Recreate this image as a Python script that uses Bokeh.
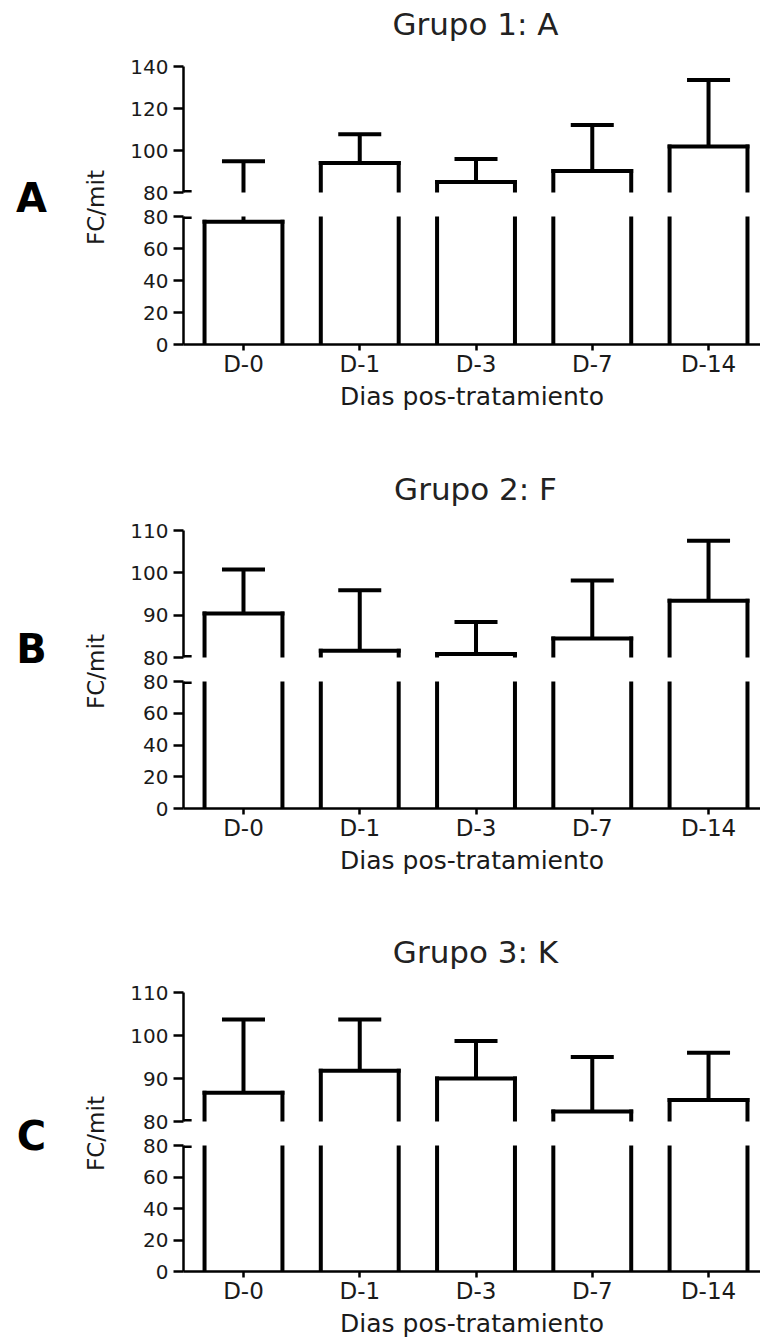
import numpy as np
from bokeh.plotting import figure
from bokeh.layouts import row, column
from bokeh.models import (Range1d, FixedTicker, ColumnDataSource, Label,
                          CDSView, BooleanFilter)
from bokeh.embed import file_html
from bokeh.resources import INLINE

# ---------------- data ----------------
days = ["D-0", "D-1", "D-3", "D-7", "D-14"]
titles = ["Grupo 1: A", "Grupo 2: F", "Grupo 3: K"]
panel_letters = ["A", "B", "C"]
y_label = "FC/mit"
x_label = "Dias pos-tratamiento"

mean_a = [76.7, 94.1, 85.0, 90.2, 101.9]
upper_a = [94.9, 107.7, 96.0, 112.1, 133.6]
mean_b = [90.4, 81.6, 80.8, 84.5, 93.4]
upper_b = [100.8, 95.9, 88.4, 98.2, 107.6]
mean_c = [86.7, 91.8, 90.0, 82.3, 85.0]
upper_c = [103.7, 103.7, 98.7, 95.0, 96.0]

upper_ticks_a = [80, 100, 120, 140]
upper_ticks_bc = [80, 90, 100, 110]
lower_ticks = [0, 20, 40, 60, 80]

# ---------------- layout / style ----------------
FONT = "DejaVu Sans"
TXT = "#1a1a1a"
LEFT_W = 123
MAIN_W = 637
TOTAL_W = LEFT_W + MAIN_W
BORDER_L = 60
X0, X1 = -0.516, 4.447
BAR_W = 0.67
CAP_W = 0.37
TITLE_H = 48
UP_TOP, UP_BOT, LOW_TOP = 18, 12, 12
UP_FRAMES = [126, 127, 129]
LOW_FRAMES = [128, 127, 127]
LOW_BOTS = [120, 118, 68]
TITLE_Y = [23, 24.5, 25.5]
TITLE_X = 475
LETTER_Y = [197 - TITLE_H, 184 - TITLE_H, 209 - TITLE_H]
YLAB_Y = 207 - TITLE_H


def style_yaxis(ax):
    ax.axis_line_width = 2.5
    ax.axis_line_color = "black"
    ax.major_tick_line_width = 2.5
    ax.major_tick_line_color = "black"
    ax.major_tick_out = 10
    ax.major_tick_in = 0
    ax.minor_tick_line_color = None
    ax.major_label_text_font = FONT
    ax.major_label_text_font_size = "20px"
    ax.major_label_text_color = TXT
    ax.major_label_standoff = 5


def draw_marks(p, src, top_mask):
    p.vbar(x="x", top="top", bottom=0, width=BAR_W, source=src,
           fill_color="white", line_color=None)
    for col in ("bl", "br"):
        p.segment(x0=col, y0=0, x1=col, y1="top", source=src,
                  line_color="black", line_width=4, line_cap="square")
    p.segment(x0="bl", y0="top", x1="br", y1="top", source=src,
              view=CDSView(filter=BooleanFilter(top_mask)),
              line_color="black", line_width=4, line_cap="square")
    p.segment(x0="x", y0="top", x1="x", y1="upper", source=src,
              line_color="black", line_width=4)
    p.segment(x0="cl", y0="upper", x1="cr", y1="upper", source=src,
              line_color="black", line_width=4)


def base_fig(w, h, yr, **kw):
    p = figure(width=w, height=h, x_range=Range1d(X0, X1), y_range=yr,
               output_backend="svg", toolbar_location=None, **kw)
    p.grid.visible = False
    p.outline_line_color = None
    p.background_fill_color = "white"
    p.border_fill_color = "white"
    return p


def blank_fig(w, h):
    p = figure(width=w, height=h, x_range=Range1d(0, w), y_range=Range1d(0, h),
               x_axis_location=None, y_axis_location=None,
               output_backend="svg", toolbar_location=None, min_border=0)
    p.grid.visible = False
    p.outline_line_color = None
    return p


def make_panel(i, means, uppers, up_ticks):
    m = np.array(means, dtype=float)
    u = np.array(uppers, dtype=float)
    x = np.arange(len(days), dtype=float)
    src = ColumnDataSource(dict(x=x, top=m, upper=u,
                                bl=x - BAR_W / 2, br=x + BAR_W / 2,
                                cl=x - CAP_W / 2, cr=x + CAP_W / 2))
    brk = up_ticks[0]

    # title strip
    tf = blank_fig(TOTAL_W, TITLE_H)
    tf.add_layout(Label(x=TITLE_X, y=TITLE_H - TITLE_Y[i], text=titles[i],
                        text_font=FONT, text_font_size="31px",
                        text_color="#222222", text_align="center",
                        text_baseline="middle"))

    up_h = UP_TOP + UP_FRAMES[i] + UP_BOT
    up = base_fig(MAIN_W, up_h, Range1d(up_ticks[0], up_ticks[-1]),
                  x_axis_location=None,
                  min_border_left=BORDER_L, min_border_right=0,
                  min_border_top=UP_TOP, min_border_bottom=UP_BOT)
    up.yaxis.ticker = FixedTicker(ticks=up_ticks)
    style_yaxis(up.yaxis[0])
    draw_marks(up, src, [True] * len(days))
    up.segment(x0=[X0], y0=[brk], x1=[X0 + 0.07], y1=[brk],
               line_color="black", line_width=5)

    low_bot = LOW_BOTS[i]
    low_h = LOW_TOP + LOW_FRAMES[i] + low_bot
    low = base_fig(MAIN_W, low_h, Range1d(lower_ticks[0], lower_ticks[-1]),
                   min_border_left=BORDER_L, min_border_right=0,
                   min_border_top=LOW_TOP, min_border_bottom=low_bot)
    low.yaxis.ticker = FixedTicker(ticks=lower_ticks)
    style_yaxis(low.yaxis[0])
    xa = low.xaxis[0]
    xa.ticker = FixedTicker(ticks=list(range(len(days))))
    xa.major_label_overrides = {j: d for j, d in enumerate(days)}
    xa.axis_line_width = 2.5
    xa.axis_line_color = "black"
    xa.major_tick_line_width = 2.5
    xa.major_tick_line_color = "black"
    xa.major_tick_out = 6
    xa.major_tick_in = 0
    xa.minor_tick_line_color = None
    xa.major_label_text_font = FONT
    xa.major_label_text_font_size = "23px"
    xa.major_label_text_color = TXT
    xa.major_label_standoff = 0
    xa.axis_label = x_label
    xa.axis_label_text_font = FONT
    xa.axis_label_text_font_size = "25px"
    xa.axis_label_text_font_style = "normal"
    xa.axis_label_text_color = TXT
    xa.axis_label_standoff = 2
    draw_marks(low, src, [bool(v) for v in (m <= lower_ticks[-1])])
    low.segment(x0=[X0], y0=[brk], x1=[X0 + 0.07], y1=[brk],
                line_color="black", line_width=5)

    lh = up_h + low_h
    left = blank_fig(LEFT_W, lh)
    left.add_layout(Label(x=31, y=lh - LETTER_Y[i], text=panel_letters[i],
                          text_font=FONT, text_font_style="bold",
                          text_font_size="40px", text_color="black",
                          text_align="center", text_baseline="middle"))
    left.add_layout(Label(x=95, y=lh - YLAB_Y, text=y_label, angle=np.pi / 2,
                          text_font=FONT, text_font_size="23px",
                          text_color=TXT, text_align="center",
                          text_baseline="middle"))
    return column(tf, row(left, column(up, low, spacing=0), spacing=0),
                  spacing=0)


page = column(
    make_panel(0, mean_a, upper_a, upper_ticks_a),
    make_panel(1, mean_b, upper_b, upper_ticks_bc),
    make_panel(2, mean_c, upper_c, upper_ticks_bc),
    spacing=0,
)

open("out.html", "w").write(file_html(page, INLINE))
